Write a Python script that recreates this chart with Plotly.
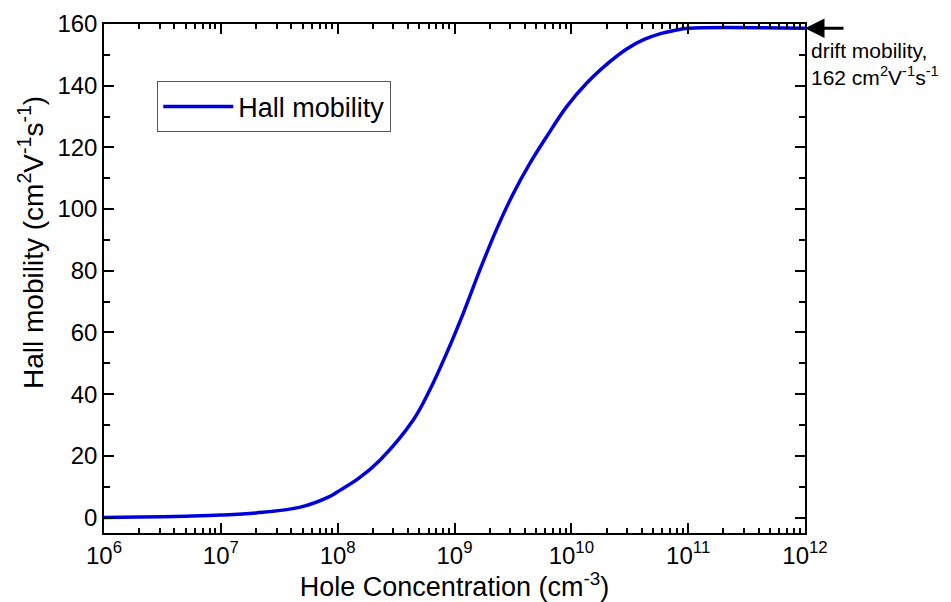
import plotly.graph_objects as go

# Data
concentration = [1e6, 2e6, 5e6, 1e7, 2e7, 4.7e7, 8.5e7, 1e8, 1.5e8, 2.3e8, 4.45e8, 6.17e8,
                 8.57e8, 1.19e9, 1.65e9, 2.3e9, 3.18e9, 4.43e9, 6.15e9, 9.12e9,
                 1.35e10, 2.14e10, 3.0e10, 4.2e10, 5.8e10, 7.8e10, 1e11, 1e12]
hall_mobility = [0.0, 0.15, 0.45, 0.8, 1.5, 3.3, 6.8, 8.4, 12.6, 18.6, 31.7, 41.5,
                 53.3, 66.3, 80.3, 93.6, 105.0, 114.9, 123.5, 133.2,
                 140.8, 147.8, 152.0, 155.0, 156.9, 158.0, 158.6, 158.6]

x_tickvals = [1e6, 1e7, 1e8, 1e9, 1e10, 1e11, 1e12]
x_ticktext = ["10<sup>6</sup>", "10<sup>7</sup>", "10<sup>8</sup>", "10<sup>9</sup>",
              "10<sup>10</sup>", "10<sup>11</sup>", "10<sup>12</sup>"]
y_tickvals = [0, 20, 40, 60, 80, 100, 120, 140, 160]

FONT = "Liberation Sans, Arial, sans-serif"

fig = go.Figure()
fig.add_trace(go.Scatter(
    x=concentration, y=hall_mobility, mode="lines", name="Hall mobility",
    line=dict(color="#0000dd", width=3.5, shape="spline", smoothing=1.0),
))

fig.update_layout(
    width=943, height=594,
    margin=dict(l=96, r=146, t=16, b=69, autoexpand=False),
    plot_bgcolor="white", paper_bgcolor="white",
    font=dict(family=FONT, color="black", size=24),
    showlegend=True,
    legend=dict(x=0.076, y=0.837, xanchor="left", yanchor="middle",
                bordercolor="#555555", borderwidth=1, bgcolor="white",
                font=dict(size=27), itemwidth=70, tracegroupgap=0),
    xaxis=dict(
        type="log", range=[6, 12], tickmode="array",
        tickvals=x_tickvals, ticktext=x_ticktext, automargin=False,
        ticks="inside", ticklen=10, tickwidth=1.5, tickcolor="black",
        showline=True, linecolor="black", linewidth=1.5, mirror="allticks",
        showgrid=False, zeroline=False,
        minor=dict(ticks="inside", ticklen=5, tickwidth=1.5, tickcolor="black",
                   dtick="D1", showgrid=False),
        title=dict(text="Hole Concentration (cm<sup>-3</sup>)", font=dict(size=27),
                   standoff=4),
        tickfont=dict(size=24),
    ),
    yaxis=dict(
        range=[-5, 160], tickmode="array", tickvals=y_tickvals, automargin=False,
        ticks="inside", ticklen=10, tickwidth=1.5, tickcolor="black",
        showline=True, linecolor="black", linewidth=1.5, mirror="allticks",
        showgrid=False, zeroline=False,
        minor=dict(ticks="inside", ticklen=6, tickwidth=1.5, tickcolor="black",
                   dtick=10, tick0=0, showgrid=False),
        tickfont=dict(size=24),
    ),
)

# y-axis title (placed above centre as in the reference)
fig.add_annotation(
    x=-0.104, y=0.57, xref="paper", yref="paper", xanchor="center", yanchor="middle",
    textangle=-90, showarrow=False,
    text="Hall mobility (cm<sup>2</sup>V<sup>-1</sup>s<sup>-1</sup>)",
    font=dict(size=28),
)

# arrow pointing to the drift mobility level
fig.add_annotation(
    x=12, y=hall_mobility[-1], xref="x", yref="y", text="",
    showarrow=True, ax=40, ay=0, arrowhead=2, arrowsize=1.3, arrowwidth=3,
    arrowcolor="black",
)
fig.add_annotation(
    x=1.006, y=0.975, xref="paper", yref="paper", xanchor="left", yanchor="top",
    align="left", showarrow=False,
    text="drift mobility,<br>162 cm<sup>2</sup>V<sup>-1</sup>s<sup>-1</sup>",
    font=dict(size=21),
)

fig.write_html("out.html")
